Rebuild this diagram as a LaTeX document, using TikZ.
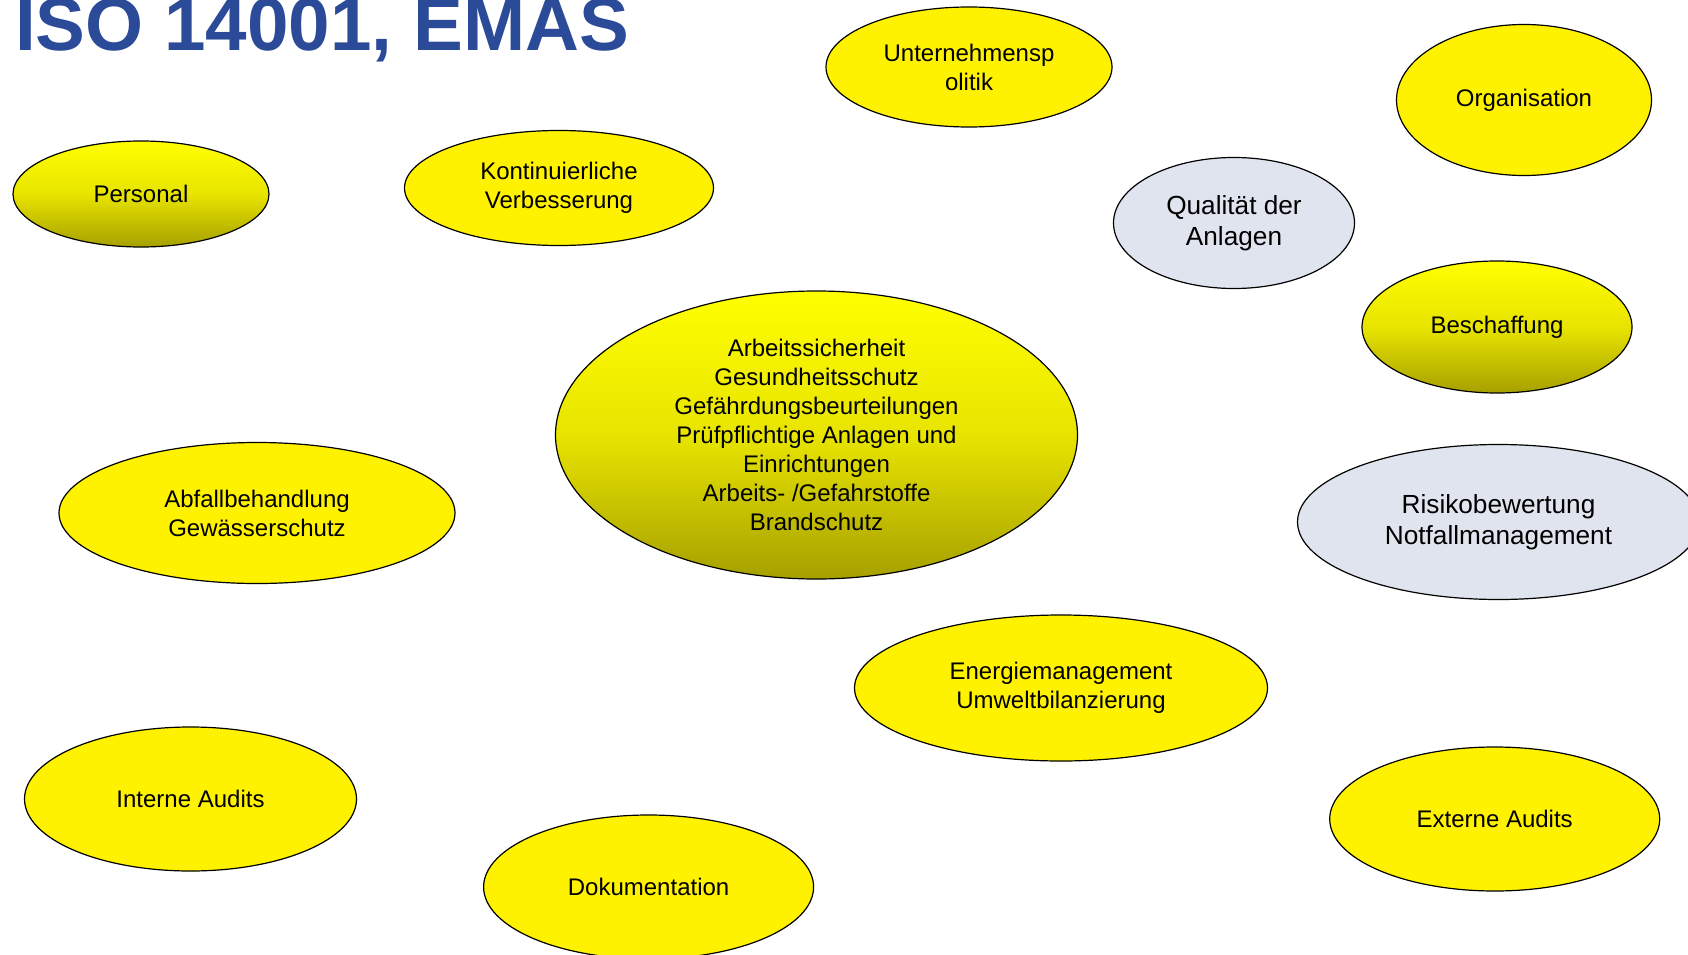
\documentclass[tikz,border=0pt]{standalone}
\usepackage{fontspec}
\setmainfont{Liberation Sans}
\usetikzlibrary{shapes.geometric}
\definecolor{isoblue}{RGB}{43,74,152}
\definecolor{isogray}{RGB}{224,228,238}
\definecolor{isoolive}{RGB}{166,160,0}
\definecolor{isomid}{RGB}{232,228,0}

\begin{document}
\begin{tikzpicture}[x=1pt,y=-1pt,
  blob/.style={ellipse,draw=black,line width=1.2pt,inner sep=0pt,align=center,
    font=\fontsize{24}{29}\selectfont},
  flat/.style={blob,fill=yellow},
  shaded/.style={blob,top color=yellow,bottom color=isoolive,middle color=isomid},
  grey/.style={blob,fill=isogray,font=\fontsize{26.2}{31.5}\selectfont}]
\useasboundingbox (0,0) rectangle (1688,955);
\clip (0,0) rectangle (1688,955);

% title
\node[anchor=base west,inner sep=0pt,text=isoblue,font=\fontsize{74.6}{80}\selectfont\bfseries]
  (title) at (15,51) {ISO 14001, EMAS};

% top row
\node[shaded,minimum width=256pt,minimum height=106pt] (personal) at (141,194) {Personal};
\node[flat,minimum width=309pt,minimum height=115pt] (kvp) at (559,188) {Kontinuierliche\\Verbesserung};
\node[flat,minimum width=286pt,minimum height=120pt] (politik) at (969,67) {Unternehmensp\\olitik};
\node[grey,minimum width=241pt,minimum height=131pt] (anlagen) at (1234,223) {Qualität der\\Anlagen};
\node[flat,minimum width=255pt,minimum height=151pt] (orga) at (1524,100) {Organisation};
\node[shaded,minimum width=270pt,minimum height=132pt] (einkauf) at (1497,327) {Beschaffung};

% middle
\node[shaded,minimum width=522pt,minimum height=288pt] (arbeit) at (816.5,435)
  {Arbeitssicherheit\\Gesundheitsschutz\\Gefährdungsbeurteilungen\\Prüfpflichtige Anlagen und\\Einrichtungen\\Arbeits- /Gefahrstoffe\\Brandschutz};
\node[flat,minimum width=396pt,minimum height=141pt] (abfall) at (257,513) {Abfallbehandlung\\Gewässerschutz};
\node[grey,minimum width=402pt,minimum height=155pt] (risiko) at (1498.5,522) {Risikobewertung\\Notfallmanagement};
\node[flat,minimum width=413pt,minimum height=146pt] (energie) at (1061,688) {Energiemanagement\\Umweltbilanzierung};

% bottom row
\node[flat,minimum width=332pt,minimum height=144pt] (intern) at (190.5,799) {Interne Audits};
\node[flat,minimum width=330pt,minimum height=144pt] (doku) at (648.6,887) {Dokumentation};
\node[flat,minimum width=330pt,minimum height=144pt] (extern) at (1494.7,819) {Externe Audits};
\end{tikzpicture}
\end{document}
